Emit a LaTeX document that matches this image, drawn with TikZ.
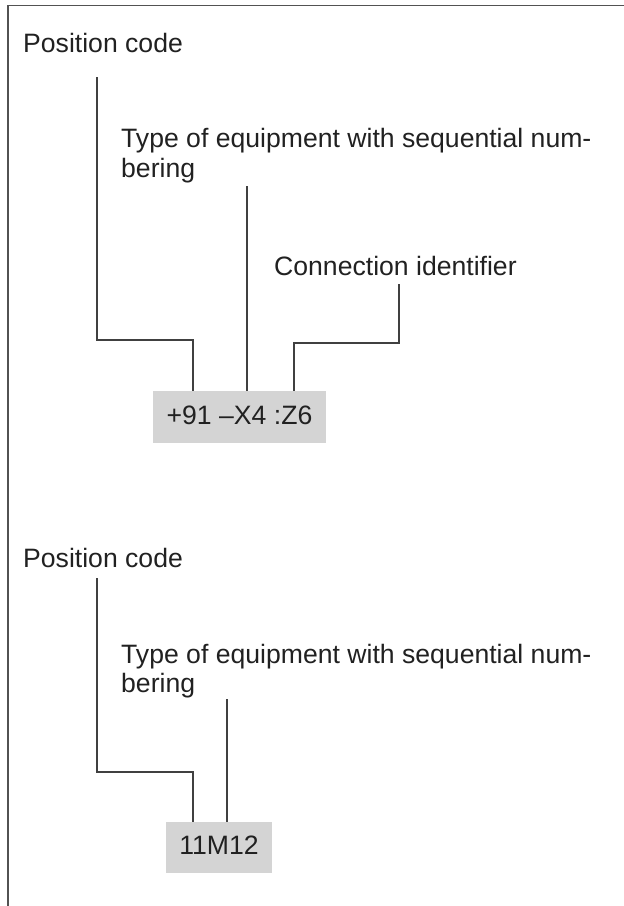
\documentclass[tikz,border=0pt]{standalone}
\usepackage{fontspec}
\setmainfont{Liberation Sans}
\begin{document}
\begin{tikzpicture}[x=1bp,y=-1bp,
  label/.style={anchor=base west,inner sep=0pt,text=black!87,
    font=\fontsize{26.6bp}{30bp}\selectfont},
  code/.style={fill=black!17,inner sep=0pt,text=black!87,
    font=\fontsize{26.6bp}{30bp}\selectfont,
    text height=14.5bp,text depth=0bp},
  lead/.style={draw=black!75,line width=1.1bp},
  frame/.style={draw=black!68,line width=1.5bp}]
\useasboundingbox (0,0) rectangle (624,906);

% open frame: top and left edges only
\draw[frame] (8,906) -- (8,5.5) -- (624,5.5);

% ---------- first example: +91 -X4 :Z6 ----------
\node[label] (posA) at (23,52) {Position code};
\node[label] (typeA) at (121,147) {Type of equipment with sequential num-};
\node[label] (typeAb) at (121,177) {bering};
\node[label] (conA) at (274,275) {Connection identifier};
\node[code,minimum width=173bp,minimum height=52bp] (boxA) at (239.5,417) {+91 –X4 :Z6};

\coordinate (pA) at (97,77);
\coordinate (tA) at (247,186);
\coordinate (cA) at (399,284);

\draw[lead] (pA) |- (193,340) -- (193,0 |- boxA.north);
\draw[lead] (tA) -- (247,0 |- boxA.north);
\draw[lead] (cA) |- (294,343) -- (294,0 |- boxA.north);

% ---------- second example: 11M12 ----------
\node[label] (posB) at (23,567) {Position code};
\node[label] (typeB) at (121,663) {Type of equipment with sequential num-};
\node[label] (typeBb) at (121,692) {bering};
\node[code,minimum width=106bp,minimum height=51bp] (boxB) at (219,847.5) {11M12};

\coordinate (pB) at (97,578);
\coordinate (tB) at (227,699);

\draw[lead] (pB) |- (193,772) -- (193,0 |- boxB.north);
\draw[lead] (tB) -- (227,0 |- boxB.north);
\end{tikzpicture}
\end{document}
